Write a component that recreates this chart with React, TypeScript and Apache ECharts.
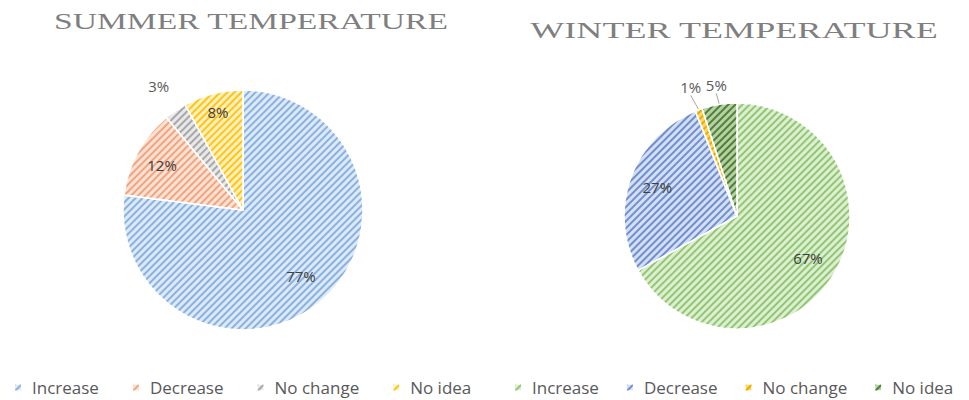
import React, { useEffect, useRef } from "react";
import * as echarts from "echarts";

const categories = ["Increase", "Decrease", "No change", "No idea"];
const summerValues = [77, 12, 3, 8];
const winterValues = [67, 27, 1, 5];
const summerTitle = "SUMMER TEMPERATURE";
const winterTitle = "WINTER TEMPERATURE";

// style config (not data)
const summerColors = [
  { base: "#dce9f7", stripe: "#8ab1df" },
  { base: "#fbe2d3", stripe: "#f2a480" },
  { base: "#e8e8e8", stripe: "#a8a8a8" },
  { base: "#fff1bd", stripe: "#ffc41a" },
];
const winterColors = [
  { base: "#ddefd2", stripe: "#93c672" },
  { base: "#d5dff3", stripe: "#6f8fcf" },
  { base: "#ffd966", stripe: "#f0a800" },
  { base: "#b6d0a6", stripe: "#4f7f33" },
];
const summerLabelDist = [0.73, 0.77, 1.25, 0.84];
const winterLabelDist = [0.73, 0.75, 1.21, 1.17];
const summerOutside = [false, false, true, false];
const winterOutside = [false, false, true, true];
const winterLines = [false, false, true, true];

function makeOption(
  title: string,
  titleTop: number,
  titleX: number,
  titleScale: number,
  values: number[],
  colors: { base: string; stripe: string }[],
  cx: number,
  cy: number,
  r: number,
  dists: number[],
  outside: boolean[],
  lines: boolean[],
  legendLeft: number,
  legendGap: number
) {
  const total = values.reduce((a, b) => a + b, 0);
  const data = categories.map((name, i) => ({
    name,
    value: values[i],
    itemStyle: {
      color: colors[i].base,
      borderColor: "#ffffff",
      borderWidth: 1.5,
      decal: {
        symbol: "rect",
        symbolSize: 1,
        dashArrayX: [1, 0],
        dashArrayY: [1.1, 2.3],
        rotation: -Math.PI / 4,
        color: colors[i].stripe,
      },
    },
    label: {
      position: outside[i] ? "outside" : "inside",
      color: outside[i] ? "#595959" : "#404040",
    },
    labelLine: { show: lines[i], lineStyle: { color: "#a6a6a6", width: 1 } },
  }));
  return {
    animation: false,
    graphic: [
      {
        type: "text",
        x: titleX,
        y: titleTop,
        scaleX: titleScale,
        style: {
          text: title,
          fontFamily: "Liberation Serif",
          fontSize: 23,
          fill: "#7f7f7f",
          textAlign: "center",
          textVerticalAlign: "top",
        },
      },
    ],
    legend: {
      data: categories,
      left: legendLeft,
      top: 379,
      padding: 0,
      icon: "rect",
      itemWidth: 8,
      itemHeight: 8,
      itemGap: legendGap,
      textStyle: {
        fontFamily: "Open Sans",
        fontSize: 17,
        color: "#595959",
        padding: [0, 0, 0, 5],
      },
    },
    series: [
      {
        type: "pie",
        center: [cx, cy],
        radius: r,
        startAngle: 90,
        clockwise: true,
        avoidLabelOverlap: false,
        data,
        label: {
          show: true,
          formatter: "{c}%",
          fontFamily: "Open Sans",
          fontSize: 15,
        },
        labelLayout: (params: any) => {
          const i = params.dataIndex;
          let before = 0;
          for (let j = 0; j < i; j++) before += values[j];
          const a = ((before + values[i] / 2) / total) * Math.PI * 2;
          const d = dists[i] * r;
          const x = cx + d * Math.sin(a);
          const y = cy - d * Math.cos(a);
          const out: any = { x, y, align: "center", verticalAlign: "middle" };
          if (lines[i]) {
            const ex = cx + r * Math.sin(a);
            const ey = cy - r * Math.cos(a);
            out.labelLinePoints = [
              [ex, ey],
              [x, y + 8],
              [x, y + 8],
            ];
          }
          return out;
        },
      },
    ],
  };
}

export default function App() {
  const ref1 = useRef<HTMLDivElement>(null);
  const ref2 = useRef<HTMLDivElement>(null);
  useEffect(() => {
    const c1 = echarts.init(ref1.current!, null, { renderer: "svg" });
    const c2 = echarts.init(ref2.current!, null, { renderer: "svg" });
    c1.setOption(
      makeOption(summerTitle, 10, 251, 1.46, summerValues, summerColors, 243, 210, 120,
        summerLabelDist, summerOutside, [false, false, false, false], 13, 32) as any
    );
    c2.setOption(
      makeOption(winterTitle, 19, 249, 1.57, winterValues, winterColors, 252, 216, 113,
        winterLabelDist, winterOutside, winterLines, 28, 26) as any
    );
    return () => {
      c1.dispose();
      c2.dispose();
    };
  }, []);
  return (
    <div style={{ position: "absolute", left: 0, top: 0, width: 969, height: 400, background: "#fff" }}>
      <div ref={ref1} style={{ position: "absolute", left: 0, top: 0, width: 485, height: 400 }} />
      <div ref={ref2} style={{ position: "absolute", left: 485, top: 0, width: 484, height: 400 }} />
    </div>
  );
}
